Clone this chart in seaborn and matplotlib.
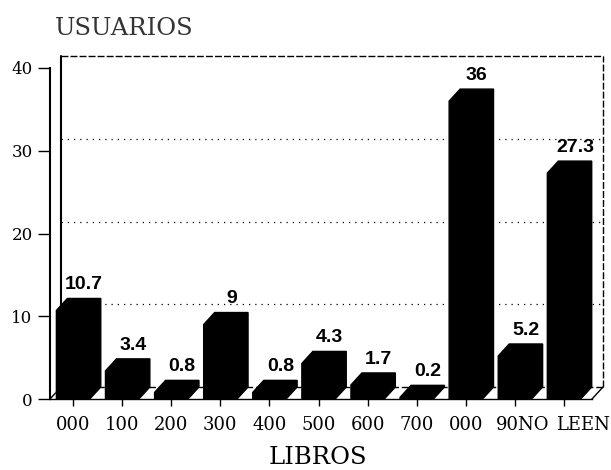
import matplotlib
matplotlib.use("Agg")
import matplotlib.pyplot as plt
from matplotlib.patches import Polygon
from matplotlib.transforms import ScaledTranslation
import seaborn as sns
import pandas as pd

# data
libros = ["000", "100", "200", "300", "400", "500", "600", "700", "000", "90NO", "LEEN"]
usuarios = [10.7, 3.4, 0.8, 9, 0.8, 4.3, 1.7, 0.2, 36, 5.2, 27.3]
y_ticks = [0, 10, 20, 30, 40]

sns.set_theme(style="white")
plt.rcParams["font.family"] = ["DejaVu Serif"]
plt.rcParams["text.color"] = "black"

df = pd.DataFrame({"pos": range(len(libros)), "usuarios": usuarios})

fig = plt.figure(figsize=(6.11, 4.70), dpi=100)
ax = fig.add_axes([50 / 611, 71 / 470, 542 / 611, 331 / 470])

sns.barplot(data=df, x="pos", y="usuarios", color="black", width=0.68,
            saturation=1, errorbar=None, ax=ax, zorder=3)
ax.set_xlim(-0.47, 10.57)
ax.set_ylim(0, 40)

# depth of the fake 3d look: pixels -> data units
px_x = ax.transData.transform((1, 0))[0] - ax.transData.transform((0, 0))[0]
px_y = (ax.transData.transform((0, 10))[1] - ax.transData.transform((0, 0))[1]) / 10
dx = 11 / px_x
dy = 12 / px_y

# bars as prisms + value labels
for p, v in zip(ax.patches, usuarios):
    x0 = p.get_x()
    x1 = x0 + p.get_width()
    h = p.get_height()
    ax.add_patch(Polygon([(x0, 0), (x1, 0), (x1 + dx, dy), (x1 + dx, h + dy),
                          (x0 + dx, h + dy), (x0, h)],
                         closed=True, fc="black", ec="black", lw=1,
                         clip_on=False, zorder=3))
    ax.annotate(f"{v:g}", (x0 + p.get_width() / 2 + dx, h + dy),
                xytext=(0, 6.5), textcoords="offset points",
                ha="center", va="baseline", fontsize=14, fontweight="bold",
                family="Liberation Sans", color="black", annotation_clip=False)

# back wall and floor
x_lo, x_hi = ax.get_xlim()
y_top = y_ticks[-1]
for t in y_ticks[1:-1]:
    ax.plot([x_lo + dx, x_hi + dx], [t + dy, t + dy], color="black", lw=0.9,
            ls=(0, (1, 4)), clip_on=False, zorder=1)
ax.plot([x_lo + dx, x_hi + dx], [y_top + dy, y_top + dy], color="black", lw=1,
        ls=(0, (5, 1.5)), clip_on=False, zorder=1)
ax.plot([x_hi + dx, x_hi + dx], [dy, y_top + dy], color="black", lw=1,
        ls=(0, (5, 1.5)), clip_on=False, zorder=1)
ax.plot([x_lo + dx, x_lo + dx], [dy, y_top + dy], color="black", lw=1.5,
        clip_on=False, zorder=1)
ax.plot([x_lo + dx, x_hi + dx], [dy, dy], color="black", lw=1,
        ls=(0, (5, 2)), clip_on=False, zorder=1)
ax.plot([x_lo, x_lo + dx], [0, dy], color="black", lw=1, clip_on=False, zorder=1)
ax.plot([x_hi, x_hi + dx], [0, dy], color="black", lw=1, clip_on=False, zorder=1)

ax.set_xticks(range(len(libros)))
ax.set_xticklabels(libros)
ax.set_yticks(y_ticks)
ax.set_xlabel("")
ax.set_ylabel("")
ax.tick_params(axis="x", bottom=True, length=5, width=1, pad=7, labelsize=13,
               colors="black")
ax.tick_params(axis="y", left=True, length=8.5, width=1, pad=4, labelsize=12,
               colors="black")

# the last two labels sit a bit right of their ticks in the original
shifts = {9: 8, 10: 19}
for i, lab in enumerate(ax.get_xticklabels()):
    if i in shifts:
        lab.set_transform(lab.get_transform() +
                          ScaledTranslation(shifts[i] / 100, 0, fig.dpi_scale_trans))

for s in ["top", "right"]:
    ax.spines[s].set_visible(False)
ax.spines["left"].set_linewidth(1.5)
ax.spines["left"].set_color("black")
ax.spines["bottom"].set_linewidth(1)
ax.spines["bottom"].set_color("black")
ax.set_facecolor("none")

fig.text(55 / 611, 1 - 35 / 470, "USUARIOS", fontsize=17.5, color="#333333",
         ha="left", va="baseline")
fig.text(318 / 611, 1 - 464 / 470, "LIBROS", fontsize=17.5, color="black",
         ha="center", va="baseline")

fig.savefig("out.png", dpi=100)
